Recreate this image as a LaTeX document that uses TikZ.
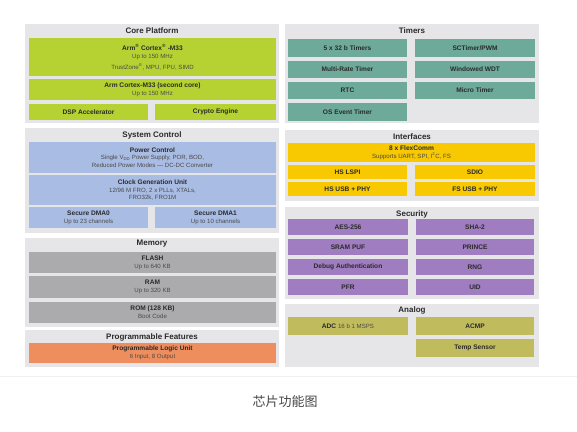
\documentclass[tikz,border=0pt]{standalone}
\usepackage{fontspec}
\setmainfont{Liberation Sans}
\newfontfamily\cjk{Noto Sans CJK SC}
\definecolor{secgray}{HTML}{E6E6E8}
\definecolor{cgreen}{HTML}{B5D232}
\definecolor{cblue}{HTML}{A9BCE3}
\definecolor{cmem}{HTML}{ABABAD}
\definecolor{corange}{HTML}{EE8E5E}
\definecolor{cteal}{HTML}{6EAA9A}
\definecolor{cyellow}{HTML}{F8C800}
\definecolor{cpurple}{HTML}{9F7DC0}
\definecolor{colive}{HTML}{C0BB5C}
\definecolor{txt}{HTML}{2A2A2A}
\definecolor{txtl}{HTML}{4A4A4A}
\newcommand\blk[7]{\node[blkbase,fill=#2,minimum width=#5pt,minimum height=#6pt,anchor=north west] (#1) at (#3,#4) {#7};}
\newcommand\bt[1]{{\fontsize{6.6}{7.8}\selectfont\bfseries\color{txt}#1}}
\newcommand\nt[1]{{\fontsize{6.1}{7.8}\selectfont\color{txtl}#1}}
\begin{document}
\begin{tikzpicture}[x=1pt,y=-1pt,
  blkbase/.style={inner sep=0pt,outer sep=0pt,align=center,font=\fontsize{6.6}{7.8}\selectfont},
  sectitle/.style={font=\fontsize{8}{9}\selectfont\bfseries,text=txt,inner sep=0pt}]
\useasboundingbox (0,0) rectangle (577,431);
\fill[white] (0,0) rectangle (577,431);
% ===== Left column =====
\blk{core}{secgray}{25}{24}{254}{99}{}
\node[sectitle] (coret) at (152,31) {Core Platform};
\blk{cpu}{cgreen}{29}{38}{247}{38}{\bt{Arm\textsuperscript{®} Cortex\textsuperscript{®} -M33}\\[1pt]\nt{Up to 150 MHz}\\[2.5pt]\nt{TrustZone\textsuperscript{®}, MPU, FPU, SIMD}}
\blk{cpu2}{cgreen}{29}{79}{247}{21}{\bt{Arm Cortex-M33 (second core)}\\\nt{Up to 150 MHz}}
\blk{dsp}{cgreen}{29}{104}{119}{16}{\bt{DSP Accelerator}}
\blk{crypto}{cgreen}{155}{104}{121}{16}{\bt{Crypto Engine}}

\blk{sys}{secgray}{25}{128}{254}{105}{}
\node[sectitle] (syst) at (152,135) {System Control};
\blk{pwr}{cblue}{29}{142}{247}{31}{\bt{Power Control}\\\nt{Single V\textsubscript{DD} Power Supply, POR, BOD,}\\\nt{Reduced Power Modes — DC-DC Converter}}
\blk{clk}{cblue}{29}{175}{247}{30}{\bt{Clock Generation Unit}\\\nt{12/96 M FRO, 2 x PLLs, XTALs,}\\\nt{FRO32k, FRO1M}}
\blk{dma0}{cblue}{29}{207}{119}{21}{\bt{Secure DMA0}\\\nt{Up to 23 channels}}
\blk{dma1}{cblue}{155}{207}{121}{21}{\bt{Secure DMA1}\\\nt{Up to 10 channels}}

\blk{mem}{secgray}{25}{238}{254}{89}{}
\node[sectitle] (memt) at (152,244) {Memory};
\blk{flash}{cmem}{29}{252}{247}{21}{\bt{FLASH}\\\nt{Up to 640 KB}}
\blk{ram}{cmem}{29}{276}{247}{22}{\bt{RAM}\\\nt{Up to 320 KB}}
\blk{rom}{cmem}{29}{302}{247}{21}{\bt{ROM (128 KB)}\\\nt{Boot Code}}

\blk{prog}{secgray}{25}{330}{254}{37}{}
\node[sectitle] (progt) at (152,337) {Programmable Features};
\blk{plu}{corange}{29}{343}{247}{20}{\bt{Programmable Logic Unit}\\\nt{6 Input, 8 Output}}

% ===== Right column =====
\blk{tim}{secgray}{285}{24}{254}{99}{}
\node[sectitle] (timt) at (412,31) {Timers};
\blk{t1}{cteal}{288}{39}{119}{18}{\bt{5 x 32 b Timers}}
\blk{t2}{cteal}{415}{39}{120}{18}{\bt{SCTimer/PWM}}
\blk{t3}{cteal}{288}{61}{119}{17}{\bt{Multi-Rate Timer}}
\blk{t4}{cteal}{415}{61}{120}{17}{\bt{Windowed WDT}}
\blk{t5}{cteal}{288}{82}{119}{17}{\bt{RTC}}
\blk{t6}{cteal}{415}{82}{120}{17}{\bt{Micro Timer}}
\blk{t7}{cteal}{288}{103}{119}{18}{\bt{OS Event Timer}}

\blk{intf}{secgray}{285}{130}{254}{71}{}
\node[sectitle] (intft) at (412,137) {Interfaces};
\blk{flex}{cyellow}{288}{143}{247}{19}{\bt{8 x FlexComm}\\\nt{Supports UART, SPI, I\textsuperscript{2}C, FS}}
\blk{lspi}{cyellow}{288}{165}{119}{14}{\bt{HS LSPI}}
\blk{sdio}{cyellow}{415}{165}{120}{14}{\bt{SDIO}}
\blk{hsusb}{cyellow}{288}{182}{119}{14}{\bt{HS USB + PHY}}
\blk{fsusb}{cyellow}{415}{182}{120}{14}{\bt{FS USB + PHY}}

\blk{sec}{secgray}{285}{207}{254}{92}{}
\node[sectitle] (sect) at (412,214) {Security};
\blk{aes}{cpurple}{288}{219}{120}{16}{\bt{AES-256}}
\blk{sha}{cpurple}{416}{219}{118}{16}{\bt{SHA-2}}
\blk{puf}{cpurple}{288}{239}{120}{16}{\bt{SRAM PUF}}
\blk{prince}{cpurple}{416}{239}{118}{16}{\bt{PRINCE}}
\blk{dbg}{cpurple}{288}{259}{120}{16}{\bt{Debug Authentication}}
\blk{rng}{cpurple}{416}{259}{118}{16}{\bt{RNG}}
\blk{pfr}{cpurple}{288}{279}{120}{16}{\bt{PFR}}
\blk{uid}{cpurple}{416}{279}{118}{16}{\bt{UID}}

\blk{ana}{secgray}{285}{304}{254}{63}{}
\node[sectitle] (anat) at (412,310) {Analog};
\blk{adc}{colive}{288}{317}{120}{18}{\bt{ADC} \nt{16 b 1 MSPS}}
\blk{acmp}{colive}{416}{317}{118}{18}{\bt{ACMP}}
\blk{temp}{colive}{416}{339}{118}{18}{\bt{Temp Sensor}}

% ===== separator and caption =====
\coordinate (sepl) at (0,376);
\coordinate (sepr) at (577,376);
\draw[color=black!6,line width=0.8pt] (sepl) -- (sepr);
\node[font=\cjk\fontsize{13}{15}\selectfont,text=black!72,inner sep=0pt] (cap) at (285,402) {芯片功能图};
\end{tikzpicture}
\end{document}
